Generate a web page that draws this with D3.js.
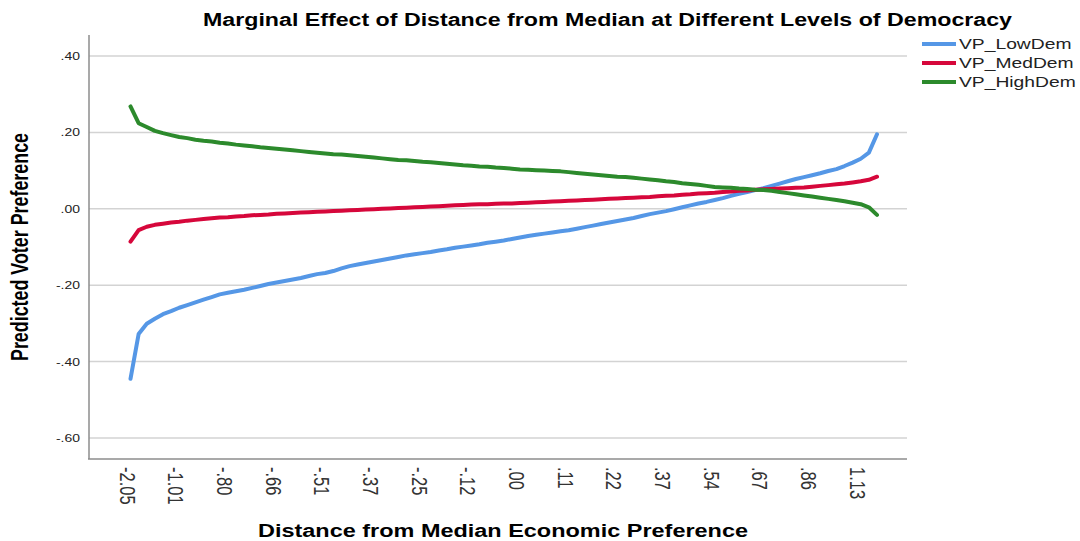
<!DOCTYPE html>
<html lang="en">
<head>
<meta charset="UTF-8">
<title>Marginal Effect of Distance from Median</title>
<script src="https://d3js.org/d3.v7.min.js"></script>
<style>
    body { margin: 0; background: #fff; }
    svg { display: block; font-family: "Liberation Sans", Arial, sans-serif; }
    .grid line { stroke: #d3d3d3; stroke-width: 1.5px; }
    .series { fill: none; stroke-width: 4px; stroke-linejoin: round; stroke-linecap: round; }
</style>
</head>
<body>
<svg id="chart" width="1080" height="541"></svg>
<script>
    // category tick labels, one every 6 categories
    const xTickLabels = ["-2.05", "-1.01", "-.80", "-.66", "-.51", "-.37", "-.25", "-.12",
        ".00", ".11", ".22", ".37", ".54", ".67", ".86", "1.13"];
    const tickEvery = 6;

    const yTicks = [0.4, 0.2, 0.0, -0.2, -0.4, -0.6];

    const lowDem = [-0.445, -0.328, -0.301, -0.288, -0.276, -0.268, -0.259, -0.252, -0.245, -0.238,
        -0.231, -0.224, -0.220, -0.216, -0.212, -0.207, -0.202, -0.197, -0.193, -0.189,
        -0.185, -0.181, -0.176, -0.171, -0.168, -0.163, -0.156, -0.150, -0.146, -0.142,
        -0.138, -0.134, -0.130, -0.126, -0.122, -0.119, -0.116, -0.113, -0.109, -0.106,
        -0.102, -0.099, -0.096, -0.093, -0.089, -0.086, -0.083, -0.079, -0.075, -0.071,
        -0.068, -0.065, -0.062, -0.059, -0.056, -0.052, -0.048, -0.044, -0.040, -0.036,
        -0.032, -0.028, -0.024, -0.019, -0.014, -0.010, -0.006, -0.001, 0.004, 0.009,
        0.014, 0.018, 0.023, 0.028, 0.034, 0.039, 0.044, 0.049, 0.054, 0.060,
        0.066, 0.072, 0.078, 0.083, 0.088, 0.093, 0.099, 0.104, 0.112, 0.121,
        0.131, 0.147, 0.195];

    const medDem = [-0.086, -0.056, -0.047, -0.042, -0.039, -0.036, -0.034, -0.031, -0.029, -0.027,
        -0.025, -0.023, -0.022, -0.020, -0.019, -0.017, -0.016, -0.015, -0.013, -0.012,
        -0.011, -0.010, -0.009, -0.008, -0.007, -0.006, -0.005, -0.004, -0.003, -0.002,
        -0.001, 0.000, 0.001, 0.002, 0.003, 0.004, 0.005, 0.006, 0.007, 0.008,
        0.009, 0.010, 0.011, 0.012, 0.012, 0.013, 0.014, 0.014, 0.015, 0.016,
        0.017, 0.018, 0.019, 0.020, 0.021, 0.022, 0.023, 0.024, 0.025, 0.026,
        0.027, 0.028, 0.029, 0.030, 0.031, 0.033, 0.034, 0.035, 0.037, 0.038,
        0.040, 0.041, 0.042, 0.044, 0.045, 0.047, 0.048, 0.050, 0.051, 0.052,
        0.053, 0.054, 0.055, 0.056, 0.058, 0.060, 0.062, 0.064, 0.066, 0.069,
        0.072, 0.076, 0.084];

    const highDem = [0.268, 0.224, 0.214, 0.204, 0.198, 0.193, 0.188, 0.185, 0.181, 0.178,
        0.176, 0.173, 0.171, 0.168, 0.166, 0.164, 0.161, 0.159, 0.157, 0.155,
        0.153, 0.151, 0.149, 0.147, 0.145, 0.143, 0.142, 0.140, 0.138, 0.136,
        0.134, 0.132, 0.130, 0.128, 0.127, 0.125, 0.123, 0.122, 0.120, 0.118,
        0.116, 0.114, 0.113, 0.111, 0.110, 0.108, 0.107, 0.105, 0.103, 0.102,
        0.101, 0.100, 0.099, 0.098, 0.096, 0.094, 0.092, 0.090, 0.088, 0.086,
        0.084, 0.083, 0.081, 0.079, 0.077, 0.075, 0.072, 0.070, 0.067, 0.065,
        0.063, 0.060, 0.057, 0.056, 0.055, 0.053, 0.052, 0.050, 0.049, 0.047,
        0.044, 0.041, 0.038, 0.035, 0.032, 0.029, 0.026, 0.023, 0.020, 0.016,
        0.012, 0.004, -0.016];

    const seriesNames = ["VP_LowDem", "VP_MedDem", "VP_HighDem"];
    const seriesColors = ["#5597e6", "#d6073b", "#2c8a2c"];
    const seriesValues = [lowDem, medDem, highDem];

    // the source picture is stretched horizontally, so the text is too
    const SX = 1.33;

    const svg = d3.select("#chart");
    const plotLeft = 89, plotRight = 907, plotTop = 35, plotBottom = 459;

    const x = d3.scaleLinear().domain([0, lowDem.length - 1]).range([130.5, 877]);
    const y = d3.scaleLinear().domain([-0.655, 0.455]).range([plotBottom, plotTop]);

    // gridlines
    svg.append("g").attr("class", "grid")
        .selectAll("line").data(yTicks).enter().append("line")
        .attr("x1", plotLeft).attr("x2", plotRight)
        .attr("y1", d => y(d)).attr("y2", d => y(d));

    // axes lines
    svg.append("line").attr("x1", plotLeft).attr("x2", plotLeft)
        .attr("y1", plotTop).attr("y2", plotBottom)
        .attr("stroke", "#8c8c8c").attr("stroke-width", 1.5);
    svg.append("line").attr("x1", plotLeft - 1).attr("x2", plotRight)
        .attr("y1", plotBottom).attr("y2", plotBottom)
        .attr("stroke", "#8c8c8c").attr("stroke-width", 1.5);

    // y tick labels, SPSS style: no leading zero, ascii minus
    const fmt = d => (d < 0 ? "-" : "") + Math.abs(d).toFixed(2).replace(/^0/, "");
    svg.append("g").selectAll("text").data(yTicks).enter().append("text")
        .attr("transform", d => `translate(80,${y(d) + 4}) scale(${SX},1)`)
        .attr("text-anchor", "end")
        .attr("font-size", 10.5)
        .attr("fill", "#222")
        .text(fmt);

    // x tick labels, rotated
    svg.append("g").selectAll("text").data(xTickLabels).enter().append("text")
        .attr("transform", (d, i) => `translate(${x(i * tickEvery) - 3},467) scale(${SX},1) rotate(90)`)
        .attr("text-anchor", "start")
        .attr("dominant-baseline", "central")
        .attr("font-size", 16.5)
        .attr("fill", "#333")
        .text(d => d);

    // series lines
    const line = d3.line().x((d, i) => x(i)).y(d => y(d));
    svg.append("g").selectAll("path").data(seriesValues).enter().append("path")
        .attr("class", "series")
        .attr("stroke", (d, i) => seriesColors[i])
        .attr("d", line);

    // title
    svg.append("text")
        .attr("x", 607.5).attr("y", 26)
        .attr("text-anchor", "middle")
        .attr("font-size", 18).attr("font-weight", "bold")
        .attr("textLength", 809).attr("lengthAdjust", "spacingAndGlyphs")
        .text("Marginal Effect of Distance from Median at Different Levels of Democracy");

    // axis titles
    svg.append("text")
        .attr("x", 503).attr("y", 537)
        .attr("text-anchor", "middle")
        .attr("font-size", 18).attr("font-weight", "bold")
        .attr("textLength", 490).attr("lengthAdjust", "spacingAndGlyphs")
        .text("Distance from Median Economic Preference");

    svg.append("text")
        .attr("transform", `translate(28,247) scale(${SX},1) rotate(-90)`)
        .attr("text-anchor", "middle")
        .attr("font-size", 18).attr("font-weight", "bold")
        .attr("textLength", 228).attr("lengthAdjust", "spacingAndGlyphs")
        .text("Predicted Voter Preference");

    // legend
    const legend = svg.append("g").selectAll("g").data(seriesNames).enter().append("g")
        .attr("transform", (d, i) => `translate(0,${44 + i * 19})`);
    legend.append("line")
        .attr("x1", 922).attr("x2", 956).attr("y1", 0).attr("y2", 0)
        .attr("stroke", (d, i) => seriesColors[i]).attr("stroke-width", 4);
    legend.append("text")
        .attr("transform", `translate(959,5) scale(${SX},1)`)
        .attr("font-size", 14.5)
        .attr("fill", "#222")
        .text(d => d);
</script>
</body>
</html>
